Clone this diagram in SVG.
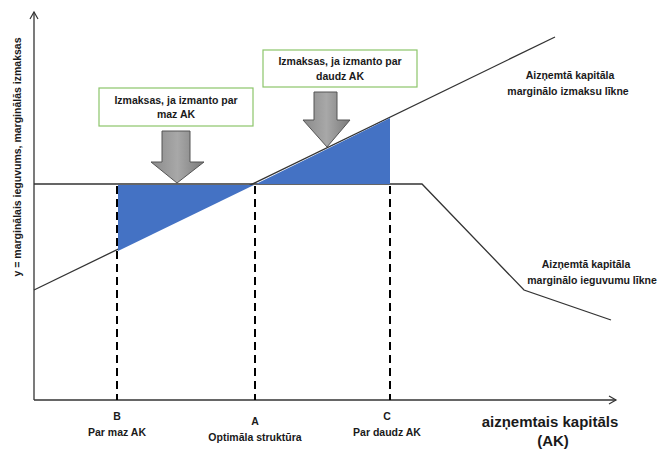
<svg xmlns="http://www.w3.org/2000/svg" width="658" height="453" viewBox="0 0 658 453">
  <style>
    .t { font-family: "Liberation Sans", Arial, sans-serif; font-weight: bold; fill: #1a1a1a; text-anchor: middle; }
    .s { font-size: 10.5px; }
    .ln { fill: none; stroke: #333; stroke-width: 1.3; }
    .dash { fill: none; stroke: #000; stroke-width: 2; stroke-dasharray: 8 5; }
    .box { fill: #fff; stroke: #8cc56a; stroke-width: 1.2; }
    .area { fill: #4472c4; }
    .arrow { fill: url(#gray); stroke: #555; stroke-width: 1; }
  </style>
  <defs>
    <linearGradient id="gray" x1="0" y1="0" x2="1" y2="0">
      <stop offset="0" stop-color="#8a8a8a"/>
      <stop offset="0.5" stop-color="#a8a8a8"/>
      <stop offset="1" stop-color="#7a7a7a"/>
    </linearGradient>
    <marker id="open" markerWidth="10" markerHeight="10" refX="8" refY="5" orient="auto" markerUnits="userSpaceOnUse">
      <polyline points="1,1 8,5 1,9" fill="none" stroke="#333" stroke-width="1.2"/>
    </marker>
  </defs>

  <rect width="658" height="453" fill="#fff"/>

  <g id="connectors">
    <!-- axes -->
    <line class="ln" x1="34" y1="400" x2="616" y2="400" marker-end="url(#open)"/>
    <line class="ln" x1="34" y1="400" x2="34" y2="12" marker-end="url(#open)"/>
    <!-- marginal benefit curve -->
    <polyline class="ln" points="34,184 422,184 524,290 611,320"/>
    <!-- marginal cost curve -->
    <line class="ln" x1="34" y1="290" x2="555" y2="37"/>
    <!-- dashed guides -->
    <line class="dash" x1="117" y1="186" x2="117" y2="400"/>
    <line class="dash" x1="255" y1="186" x2="255" y2="400"/>
    <line class="dash" x1="390" y1="186" x2="390" y2="400"/>
  </g>

  <!-- shaded areas between the curves -->
  <g id="areas">
    <polygon class="area" points="118,185 254,185 118,251"/>
    <polygon class="area" points="256,184 390,118 390,184"/>
  </g>

  <g id="box-little">
    <rect class="box" x="99" y="88" width="154" height="38"/>
    <text class="t s" x="176" y="104">Izmaksas, ja izmanto par</text>
    <text class="t s" x="176" y="118">maz AK</text>
  </g>
  <g id="arrow-little">
    <polygon class="arrow" points="162,131 190,131 190,162 204,162 177,183 151,162 162,162"/>
  </g>

  <g id="box-much">
    <rect class="box" x="263" y="50" width="154" height="37"/>
    <text class="t s" x="340" y="65">Izmaksas, ja izmanto par</text>
    <text class="t s" x="340" y="80">daudz AK</text>
  </g>
  <g id="arrow-much">
    <polygon class="arrow" points="314,92 337,92 337,120 350,120 327,147 303,120 314,120"/>
  </g>

  <g id="label-cost">
    <text class="t s" x="570" y="79">Aizņemtā kapitāla</text>
    <text class="t s" x="568" y="95">marginālo izmaksu līkne</text>
  </g>
  <g id="label-benefit">
    <text class="t s" x="586" y="268">Aizņemtā kapitāla</text>
    <text class="t s" x="592" y="284">marginālo ieguvumu līkne</text>
  </g>

  <g id="label-B">
    <text class="t s" x="117" y="420">B</text>
    <text class="t s" x="117" y="436">Par maz AK</text>
  </g>
  <g id="label-A">
    <text class="t s" x="255" y="425">A</text>
    <text class="t s" x="255" y="441">Optimāla struktūra</text>
  </g>
  <g id="label-C">
    <text class="t s" x="387" y="420">C</text>
    <text class="t s" x="387" y="436">Par daudz AK</text>
  </g>

  <g id="axis-x-title">
    <text class="t" font-size="15" x="550" y="427">aizņemtais kapitāls</text>
    <text class="t" font-size="15" x="553" y="446">(AK)</text>
  </g>
  <g id="axis-y-title">
    <text class="t" font-size="10.5" transform="translate(21,157) rotate(-90)" x="0" y="0">y = marginālais ieguvums, marginālās izmaksas</text>
  </g>
</svg>
